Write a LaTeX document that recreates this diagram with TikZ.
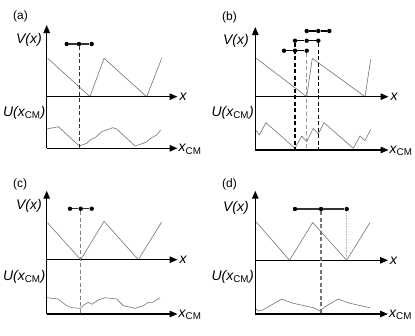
\documentclass[tikz,border=0pt]{standalone}
\usepackage{fontspec}
\setmainfont{Liberation Sans}
\usetikzlibrary{arrows.meta}
\tikzset{
  axis/.style={line width=1.3pt,-{Triangle[length=8pt,width=6.5pt]}},
  curve/.style={draw=black!55,line width=0.6pt,line join=round},
  dot/.style={circle,fill=black,inner sep=0pt,minimum size=4.4pt},
  bar/.style={draw=black!80,line width=1.3pt},
  vdash/.style={dash pattern=on 4pt off 2.5pt,line width=1pt},
  axlabel/.style={font=\fontsize{14}{16}\selectfont\itshape,inner sep=0pt},
  panlabel/.style={font=\fontsize{12}{14}\selectfont,inner sep=0pt,anchor=west},
}
\newcommand{\ucm}{U(x\textsubscript{\upshape CM})}
\newcommand{\xcm}{x\textsubscript{\upshape CM}}
\begin{document}
\begin{tikzpicture}[x=1pt,y=-1pt]
\useasboundingbox (0,0) rectangle (415,335);
% ---------- panel (a)
\node[panlabel] (la) at (13,16) {(a)};
\coordinate (aO) at (46.7,148.3);
\coordinate (aV) at (46.7,96.7);
\coordinate (aT) at (46.7,25);
\coordinate (aX) at (177.5,96.7);
\coordinate (aC) at (177.5,148.3);
\draw[curve] plot coordinates {(47.7,58.3) (90,96.7) (104,58.3) (146.7,96.7) (161.7,58.3)};
\draw[curve] plot coordinates {(46.7,129) (58.3,126.7) (79.3,146) (86.7,143.3) (91.7,139) (95,137.7) (101.7,131.7) (112.7,127.7) (116.7,129) (135,146) (146,142.3) (151.7,137.7) (156.7,135) (160.7,130)};
\draw[axis] (aO) -- (aT);
\draw[axis] (aV) -- (aX);
\draw[axis] (aO) -- (aC);
\node[axlabel,anchor=east] (aVl) at (42,40) {V(x)};
\node[axlabel,anchor=east] (aUl) at (45.5,112.5) {\ucm};
\node[axlabel,anchor=west] (aXl) at ([xshift=2pt]aX) {x};
\node[axlabel,anchor=west] (aCl) at ([xshift=1pt,yshift=-1pt]aC) {\xcm};
\node[dot] (a1) at (66.7,44) {};
\node[dot] (a2) at (79,44) {};
\node[dot] (a3) at (91.7,44) {};
\coordinate (a2b) at (79,148.3);
\draw[vdash,draw=black!80] (a2) -- (a2b);
\draw[bar] (a1) -- (a2) -- (a3);
% ---------- panel (b)
\node[panlabel] (lb) at (222,17) {(b)};
\coordinate (bO) at (255.3,150);
\coordinate (bV) at (255.3,96.7);
\coordinate (bT) at (255.3,27);
\coordinate (bX) at (388.5,96.7);
\coordinate (bC) at (388.5,150);
\draw[curve] plot coordinates {(256.3,58.3) (306.7,96.7) (312.3,58.3) (365,96.7) (370.7,59.3)};
\draw[curve] plot coordinates {(255.3,129.3) (259.3,135) (266,122.7) (295,148.3) (301.7,136) (306.7,141.7) (313.3,128.3) (318.3,134) (324,122.7) (353.3,148.3) (360,136) (365,140.7) (370.7,129.3)};
\draw[axis] (bO) -- (bT);
\draw[axis] (bV) -- (bX);
\draw[axis] (bO) -- (bC);
\node[axlabel,anchor=east] (bVl) at (249,41) {V(x)};
\node[axlabel,anchor=east] (bUl) at (254,113) {\ucm};
\node[axlabel,anchor=west] (bXl) at ([xshift=2pt]bX) {x};
\node[axlabel,anchor=west] (bCl) at ([xshift=1pt,yshift=-1pt]bC) {\xcm};
\node[dot] (b11) at (306.7,31) {};
\node[dot] (b12) at (318.3,31) {};
\node[dot] (b13) at (329.3,31) {};
\node[dot] (b21) at (295,40.7) {};
\node[dot] (b22) at (306.7,40.7) {};
\node[dot] (b23) at (318.3,40.7) {};
\node[dot] (b31) at (284,50.7) {};
\node[dot] (b32) at (295,50.7) {};
\node[dot] (b33) at (306.7,50.7) {};
\coordinate (b21b) at (295,150);
\coordinate (b33b) at (306.7,150);
\coordinate (b23b) at (318.3,150);
\draw[vdash,draw=black,line width=1.3pt] (b21) -- (b21b);
\draw[vdash,draw=black!40,line width=1.3pt] (b33) -- (b33b);
\draw[vdash,draw=black,line width=1.3pt] (b23) -- (b23b);
\draw[bar,draw=black] (b11) -- (b12) -- (b13);
\draw[bar,draw=black] (b21) -- (b22) -- (b23);
\draw[bar,draw=black] (b31) -- (b32) -- (b33);
% ---------- panel (c)
\node[panlabel] (lc) at (13,184.7) {(c)};
\coordinate (cO) at (46.7,314);
\coordinate (cV) at (46.7,259.7);
\coordinate (cT) at (46.7,190.7);
\coordinate (cX) at (177.5,259.7);
\coordinate (cC) at (177.5,314);
\draw[curve] plot coordinates {(47.7,223) (80.7,259.7) (104,221.3) (138.3,259.7) (161.7,222)};
\draw[curve] plot coordinates {(46.7,297.7) (58.3,299) (66.7,305.7) (71.7,307.7) (80,308.3) (85,304.3) (88.3,302.3) (91.7,304.3) (98.3,300) (105,297.7) (116.7,299) (123.3,305.7) (135,308.3) (143.3,305.7) (148.3,302.3) (152.7,302.3) (160,297.7)};
\draw[axis] (cO) -- (cT);
\draw[axis] (cV) -- (cX);
\draw[axis] (cO) -- (cC);
\node[axlabel,anchor=east] (cVl) at (42,206) {V(x)};
\node[axlabel,anchor=east] (cUl) at (45.5,277) {\ucm};
\node[axlabel,anchor=west] (cXl) at ([xshift=2pt]cX) {x};
\node[axlabel,anchor=west] (cCl) at ([xshift=1pt,yshift=-1pt]cC) {\xcm};
\node[dot] (c1) at (70,208.7) {};
\node[dot] (c2) at (80.7,208.7) {};
\node[dot] (c3) at (91.7,208.7) {};
\coordinate (c2b) at (80.7,314);
\draw[vdash,draw=black!50,line width=0.8pt] (c2) -- (c2b);
\draw[bar] (c1) -- (c2) -- (c3);
% ---------- panel (d)
\node[panlabel] (ld) at (222,184.7) {(d)};
\coordinate (dO) at (255.3,314);
\coordinate (dV) at (255.3,260.3);
\coordinate (dT) at (255.3,190.7);
\coordinate (dX) at (388,260.3);
\coordinate (dC) at (388,314);
\draw[curve] plot coordinates {(256.3,222) (289.5,260.3) (312.7,222.5) (346.7,260.3) (370,222.5)};
\draw[curve] plot coordinates {(255.3,308.3) (258.3,311) (262.7,310) (281.7,299) (286.7,301) (293.3,303.3) (313.3,307.7) (320,311) (325,306.7) (338.3,299) (343.3,301) (350,303.3) (370,307.7)};
\draw[axis] (dO) -- (dT);
\draw[axis] (dV) -- (dX);
\draw[axis] (dO) -- (dC);
\node[axlabel,anchor=east] (dVl) at (249,208) {V(x)};
\node[axlabel,anchor=east] (dUl) at (254,277) {\ucm};
\node[axlabel,anchor=west] (dXl) at ([xshift=2pt]dX) {x};
\node[axlabel,anchor=west] (dCl) at ([xshift=1pt,yshift=-1pt]dC) {\xcm};
\node[dot] (d1) at (295,209) {};
\node[dot] (d2) at (321,209) {};
\node[dot] (d3) at (346.7,209) {};
\coordinate (d2b) at (321,314);
\coordinate (d3b) at (346.7,260.3);
\draw[vdash,draw=black!55,line width=1.6pt] (d2) -- (d2b);
\draw[draw=black!30,line width=1.3pt,dash pattern=on 1pt off 0.6pt] (d3) -- (d3b);
\draw[bar] (d1) -- (d2) -- (d3);
\end{tikzpicture}
\end{document}
